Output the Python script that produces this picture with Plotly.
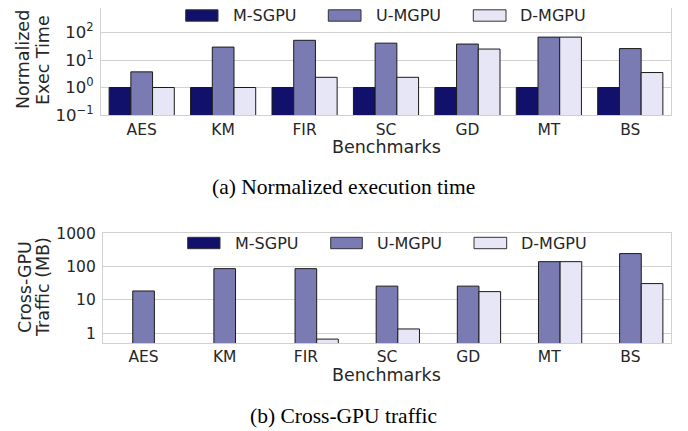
import plotly.graph_objects as go

# ---------------- data ----------------
categories = ["AES", "KM", "FIR", "SC", "GD", "MT", "BS"]
series_names = ["M-SGPU", "U-MGPU", "D-MGPU"]

exec_msgpu = [1, 1, 1, 1, 1, 1, 1]
exec_umgpu = [3.7, 29.5, 52, 41, 38, 68, 26]
exec_dmgpu = [1, 1, 2.35, 2.35, 25, 68, 3.5]

traffic_msgpu = [None, None, None, None, None, None, None]
traffic_umgpu = [18.6, 87, 87, 26, 26, 141, 246]
traffic_dmgpu = [None, None, 0.67, 1.35, 17.8, 141, 31]

exec_tickvals = [0.1, 1, 10, 100]
exec_ticktext = ["10<sup>−1</sup>", "10<sup>0</sup>", "10<sup>1</sup>", "10<sup>2</sup>"]
traffic_tickvals = [1, 10, 100, 1000]
traffic_ticktext = ["1", "10", "100", "1000"]

caption_a = "(a) Normalized execution time"
caption_b = "(b) Cross-GPU traffic"
ytitle_a = ["Normalized", "Exec Time"]
ytitle_b = ["Cross-GPU", "Traffic (MB)"]
xtitle = "Benchmarks"

# ---------------- style ----------------
# the page body has an 8px margin, so the figure is 8px smaller and
# all reference-pixel positions are shifted by that offset
OFF = 8
W, H = 688 - OFF, 431 - OFF
colors = ["#11116B", "#7B7BB4", "#E6E6F7"]
edge = "#1a1a1a"
grid = "#d0d0d0"
txt = "#262626"
sans = "DejaVu Sans"
serif = "Liberation Serif"


def px(x):
    return (x - OFF) / W


def py(y):
    return min(1.0, 1 - (y - OFF) / H)


# top panel: decade spacing 27.5px, frame clipped at the page offset
top_y0, top_y1 = 115, 8
top_range = [-1, 3 - (8 - 5) / 27.5]

fig = go.Figure()

top_series = [exec_msgpu, exec_umgpu, exec_dmgpu]
bot_series = [traffic_msgpu, traffic_umgpu, traffic_dmgpu]
for name, vals, col in zip(series_names, top_series, colors):
    fig.add_trace(go.Bar(x=categories, y=vals, name=name, marker=dict(color=col, line=dict(color=edge, width=1)),
                         xaxis="x", yaxis="y", showlegend=False))
for name, vals, col in zip(series_names, bot_series, colors):
    fig.add_trace(go.Bar(x=categories, y=vals, name=name, marker=dict(color=col, line=dict(color=edge, width=1)),
                         xaxis="x2", yaxis="y2", showlegend=False))

axis_common = dict(showline=True, mirror=True, linecolor=grid, linewidth=1.2, automargin=False, zeroline=False,
                   ticks="")
tick_font = dict(family=sans, size=15.5, color=txt)

fig.update_layout(
    width=W, height=H,
    margin=dict(l=0, r=0, t=0, b=0, autoexpand=False),
    paper_bgcolor="white", plot_bgcolor="white",
    barmode="group", bargap=0.2, bargroupgap=0,
    showlegend=False,
    xaxis=dict(domain=[px(101), px(671)], anchor="y", showgrid=False, range=[-0.5, 6.5],
               ticklabelstandoff=0, tickfont=tick_font, **axis_common),
    yaxis=dict(domain=[py(top_y0), py(top_y1)], anchor="x", type="log", range=top_range,
               tickvals=exec_tickvals, ticktext=exec_ticktext, showgrid=True, gridcolor=grid, gridwidth=1.2,
               ticklabelstandoff=3, tickfont=dict(family=sans, size=16.5, color=txt), **axis_common),
    xaxis2=dict(domain=[px(103), px(671)], anchor="y2", showgrid=False, range=[-0.5, 6.5],
                ticklabelstandoff=-1, tickfont=tick_font, **axis_common),
    yaxis2=dict(domain=[py(343.3), py(233.3)], anchor="x2", type="log", range=[-0.3, 3],
                tickvals=traffic_tickvals, ticktext=traffic_ticktext, showgrid=True, gridcolor=grid, gridwidth=1.2,
                ticklabelstandoff=3, tickfont=tick_font, **axis_common),
)

ann = []
shapes = []

# y titles
for (xc, label) in zip([23, 43], ytitle_a):
    ann.append(dict(x=px(xc), y=py(60), xref="paper", yref="paper", text=label, textangle=-90, showarrow=False,
                    font=dict(family=sans, size=17.5, color=txt), xanchor="center", yanchor="middle"))
for (xc, label) in zip([25, 43], ytitle_b):
    ann.append(dict(x=px(xc), y=py(287), xref="paper", yref="paper", text=label, textangle=-90, showarrow=False,
                    font=dict(family=sans, size=17.5, color=txt), xanchor="center", yanchor="middle"))

# x titles
ann.append(dict(x=px(386), y=py(147), xref="paper", yref="paper", text=xtitle, showarrow=False,
                font=dict(family=sans, size=17.5, color=txt), xanchor="center", yanchor="middle"))
ann.append(dict(x=px(386), y=py(375), xref="paper", yref="paper", text=xtitle, showarrow=False,
                font=dict(family=sans, size=17.5, color=txt), xanchor="center", yanchor="middle"))

# captions
ann.append(dict(x=px(343), y=py(187), xref="paper", yref="paper", text=caption_a, showarrow=False,
                font=dict(family=serif, size=21.5, color="black"), xanchor="center", yanchor="middle"))
ann.append(dict(x=px(343), y=py(416), xref="paper", yref="paper", text=caption_b, showarrow=False,
                font=dict(family=serif, size=21.5, color="black"), xanchor="center", yanchor="middle"))

# legends (manual, matching the wide swatches)
legend_rows = [(15.5, [(185.7, 218, 232), (328.3, 361, 375), (473.3, 506, 519.3)]),
               (243, [(187.7, 220, 234), (330.7, 362.3, 376), (474, 506.7, 520)])]
for yc, items in legend_rows:
    for (x0, x1, xt), name, col in zip(items, series_names, colors):
        shapes.append(dict(type="rect", xref="paper", yref="paper", x0=px(x0), x1=px(x1),
                           y0=py(yc - 5.7), y1=py(yc + 5.7), fillcolor=col, line=dict(color="#333333", width=1)))
        ann.append(dict(x=px(xt), y=py(yc), xref="paper", yref="paper", text=name, showarrow=False,
                        height=14, borderpad=0, valign="middle",
                        font=dict(family=sans, size=16, color=txt), xanchor="left", yanchor="middle"))

fig.update_layout(annotations=ann, shapes=shapes)
fig.write_html("out.html")
